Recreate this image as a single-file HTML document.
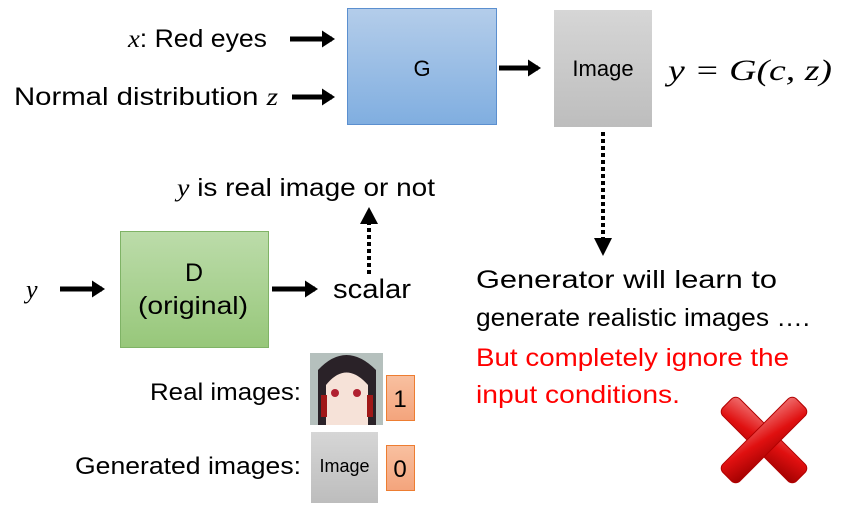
<!DOCTYPE html>
<html><head><meta charset="utf-8"><style>
html,body{margin:0;padding:0;background:#fff;width:846px;height:519px;overflow:hidden}
svg text{font-family:"Liberation Sans",sans-serif}
.m{font-family:"Liberation Serif",serif;font-style:italic}
</style></head><body>
<svg width="846" height="519" viewBox="0 0 846 519" xmlns="http://www.w3.org/2000/svg">
<defs>
<linearGradient id="gb" x1="0" y1="0" x2="0" y2="1"><stop offset="0" stop-color="#b4cdea"/><stop offset="1" stop-color="#80aee0"/></linearGradient>
<linearGradient id="gg" x1="0" y1="0" x2="0" y2="1"><stop offset="0" stop-color="#bcdcaa"/><stop offset="1" stop-color="#97c77a"/></linearGradient>
<linearGradient id="gy" x1="0" y1="0" x2="0" y2="1"><stop offset="0" stop-color="#d6d6d6"/><stop offset="1" stop-color="#bdbdbd"/></linearGradient>
<linearGradient id="go" x1="0" y1="0" x2="0" y2="1"><stop offset="0" stop-color="#f8c0a0"/><stop offset="1" stop-color="#f4a47c"/></linearGradient>
<linearGradient id="gr" x1="0" y1="0" x2="1" y2="1"><stop offset="0" stop-color="#f07070"/><stop offset="0.5" stop-color="#e01010"/><stop offset="1" stop-color="#a00000"/></linearGradient>
<marker id="ah" markerWidth="4" markerHeight="4" refX="2" refY="2" orient="auto" markerUnits="strokeWidth"><path d="M0,0.3 L2.6,2 L0,3.7Z" fill="#000"/></marker>
</defs>
<rect x="347.5" y="8.5" width="149" height="116" fill="url(#gb)" stroke="#5b8fcf"/>
<text x="422" y="76" font-size="22" text-anchor="middle">G</text>
<rect x="554" y="10" width="98" height="117" fill="url(#gy)"/>
<text x="603" y="76" font-size="22" text-anchor="middle">Image</text>
<text x="668" y="80" font-size="30" class="m" textLength="164" lengthAdjust="spacingAndGlyphs">y = G(c, z)</text>
<text x="128" y="47" font-size="25" textLength="139" lengthAdjust="spacingAndGlyphs"><tspan class="m">x</tspan>: Red eyes</text>
<text x="14" y="105" font-size="25" textLength="264" lengthAdjust="spacingAndGlyphs">Normal distribution <tspan class="m">z</tspan></text>
<g stroke="#000" stroke-width="5" fill="none">
<line x1="290" y1="39" x2="332" y2="39" marker-end="url(#ah)"/>
<line x1="292" y1="97" x2="332" y2="97" marker-end="url(#ah)"/>
<line x1="499" y1="68" x2="538" y2="68" marker-end="url(#ah)"/>
<line x1="60" y1="289" x2="102" y2="289" marker-end="url(#ah)"/>
<line x1="272" y1="289" x2="315" y2="289" marker-end="url(#ah)"/>
</g>
<g stroke="#000" stroke-width="4" stroke-dasharray="4,3" fill="none">
<line x1="603" y1="132" x2="603" y2="240"/>
<line x1="369" y1="274" x2="369" y2="222"/>
</g>
<path d="M594,238 L612,238 L603,256Z" fill="#000"/>
<path d="M360,224 L378,224 L369,207Z" fill="#000"/>
<rect x="120.5" y="231.5" width="148" height="116" fill="url(#gg)" stroke="#7fb366"/>
<text x="194" y="281" font-size="25" text-anchor="middle">D</text>
<text x="138" y="314" font-size="25" textLength="110" lengthAdjust="spacingAndGlyphs">(original)</text>
<text x="26" y="298" font-size="26" class="m">y</text>
<text x="333" y="298" font-size="27" textLength="78" lengthAdjust="spacingAndGlyphs">scalar</text>
<text x="177" y="196" font-size="25" textLength="258" lengthAdjust="spacingAndGlyphs"><tspan class="m">y</tspan> is real image or not</text>
<text x="476" y="288" font-size="25" textLength="301" lengthAdjust="spacingAndGlyphs">Generator will learn to</text>
<text x="476" y="326" font-size="25" textLength="334" lengthAdjust="spacingAndGlyphs">generate realistic images ….</text>
<text x="476" y="366" font-size="25" fill="#f00" textLength="313" lengthAdjust="spacingAndGlyphs">But completely ignore the</text>
<text x="476" y="403" font-size="25" fill="#f00" textLength="204" lengthAdjust="spacingAndGlyphs">input conditions.</text>
<text x="150" y="400" font-size="24" textLength="151" lengthAdjust="spacingAndGlyphs">Real images:</text>
<text x="75" y="474" font-size="24" textLength="226" lengthAdjust="spacingAndGlyphs">Generated images:</text>
<rect x="310" y="353" width="73" height="72" fill="#9aa8a8"/>
<rect x="310" y="353" width="73" height="72" fill="#c8d0cc" opacity="0.6"/>
<path d="M318,425 L318,370 Q346,340 376,370 L376,425Z" fill="#2a2228"/>
<path d="M326,425 L326,385 Q346,360 368,385 L368,425Z" fill="#f6e2d8"/>
<circle cx="335" cy="393" r="4" fill="#b02030"/><circle cx="357" cy="393" r="4" fill="#b02030"/>
<rect x="321" y="395" width="6" height="22" fill="#a01818"/><rect x="367" y="395" width="6" height="22" fill="#a01818"/>
<rect x="386.5" y="375.5" width="28" height="45" fill="url(#go)" stroke="#ed7d31"/>
<text x="400" y="407" font-size="24" text-anchor="middle">1</text>
<rect x="311" y="432" width="67" height="71" fill="url(#gy)"/>
<text x="344.5" y="472" font-size="18" text-anchor="middle">Image</text>
<rect x="386.5" y="445.5" width="28" height="45" fill="url(#go)" stroke="#ed7d31"/>
<text x="400" y="477" font-size="24" text-anchor="middle">0</text>
<g transform="translate(764,440) rotate(45)">
<rect x="-52" y="-12" width="104" height="24" rx="6" fill="url(#gr)" stroke="#b00000"/>
<rect x="-12" y="-52" width="24" height="104" rx="6" fill="url(#gr)" stroke="#b00000"/>
</g>
</svg>
</body></html>
